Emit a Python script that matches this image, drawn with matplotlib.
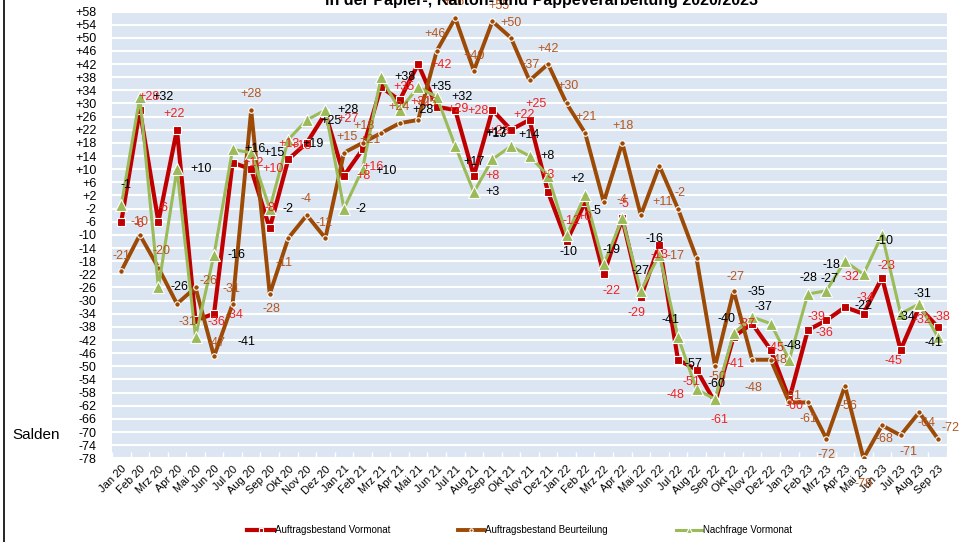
import numpy as np
import matplotlib
matplotlib.use("Agg")
import matplotlib.pyplot as plt
from matplotlib.lines import Line2D

plt.rcParams['font.family'] = ['Liberation Sans', 'DejaVu Sans']

# -----------------------------
# data
# -----------------------------
months = ["Jan 20", "Feb 20", "Mrz 20", "Apr 20", "Mai 20", "Jun 20", "Jul 20", "Aug 20",
          "Sep 20", "Okt 20", "Nov 20", "Dez 20",
          "Jan 21", "Feb 21", "Mrz 21", "Apr 21", "Mai 21", "Jun 21", "Jul 21", "Aug 21",
          "Sep 21", "Okt 21", "Nov 21", "Dez 21",
          "Jan 22", "Feb 22", "Mrz 22", "Apr 22", "Mai 22", "Jun 22", "Jul 22", "Aug 22",
          "Sep 22", "Okt 22", "Nov 22", "Dez 22",
          "Jan 23", "Feb 23", "Mrz 23", "Apr 23", "Mai 23", "Jun 23", "Jul 23", "Aug 23",
          "Sep 23"]

auftrag_vormonat = [-6, 28, -6, 22, -36, -34, 12, 10, -8, 13, 18, 27,
                    8, 16, 35, 31, 42, 29, 28, 8, 28, 22, 25, 3,
                    -12, 0, -22, -5, -29, -13, -48, -51, -61, -41, -37, -45,
                    -60, -39, -36, -32, -34, -23, -45, -32, -38]

auftrag_beurteilung = [-21, -10, -20, -31, -26, -47, -31, 28, -28, -11, -4, -11,
                       15, 18, 21, 24, 25, 46, 56, 40, 55, 50, 37, 42,
                       30, 21, 0, 18, -4, 11, -2, -17, -50, -27, -48, -48,
                       -61, -61, -72, -56, -78, -68, -71, -64, -72]

nachfrage_vormonat = [-1, 32, -26, 10, -41, -16, 16, 15, -2, 19, 25, 28,
                      -2, 10, 38, 28, 35, 32, 17, 3, 13, 17, 14, 8,
                      -10, 2, -19, -5, -27, -16, -41, -57, -60, -40, -35, -37,
                      -48, -28, -27, -18, -22, -10, -34, -31, -41]

# which data labels are visible (brown Mrz 22 has none)
beurteilung_show = [True] * 26 + [False] + [True] * 18

# label offsets in pixels (left edge dx, centre dy downwards) -- hand placed like the original
red_off = [(12, 2), (-1, -13), (-1, -14), (-14, -16), (12, 2), (11, 1), (10, 0), (11, 0),
           (-5, -20), (-10, -15), (-16, 3), (12, 6),
           (12, 0), (0, 18), (12, 0), (11, 2), (12, 1), (11, 2), (12, 1), (12, 0),
           (-4, 21), (2, -15), (-4, -16), (-8, -17),
           (-4, -20), (-8, 15), (-1, 17), (-4, -14), (-13, 16), (-9, 10), (-11, 35), (-14, 12),
           (-5, 18), (-7, 27), (-15, 0), (-4, -2),
           (-4, 7), (0, -13), (-11, 13), (-3, -30), (-7, -16), (-5, -12), (-16, 11), (-6, 13),
           (-5, -10)]

brown_off = [(-9, -15), (-9, -13), (-6, -17), (2, 18), (4, -6), (-7, -13), (-10, -15), (-11, -16),
             (-7, 15), (-13, 25), (-6, -16), (-10, -15),
             (-8, -16), (-9, -17), (-22, 7), (-11, -16), (-3, -17), (-12, -17), (-12, -16), (-10, -15),
             (-4, -15), (-11, -15), (-11, -15), (-11, -15),
             (-9, -17), (-10, -16), (0, 0), (-10, -17), (-24, -15), (-7, 36), (-3, -16), (-30, -2),
             (-7, 11), (-7, -14), (-8, 28), (-1, 0),
             (-6, -6), (-8, 17), (-9, 16), (-5, 20), (-9, 26), (-7, 14), (-1, 17), (-2, 11),
             (4, -11)]

green_off = [(-1, -20), (13, 0), (12, 0), (13, 0), (42, 5), (13, 0), (12, 0), (12, 0),
             (13, 0), (14, 4), (14, 1), (12, 0),
             (12, 0), (13, 2), (13, 0), (13, 0), (12, 0), (15, 0), (8, 16), (12, 0),
             (-7, -25), (-26, -13), (-11, -21), (-8, -20),
             (-7, 17), (-15, -16), (-1, -14), (-32, -7), (-9, -20), (-14, -16), (-16, -17), (-12, -25),
             (-8, -15), (-16, -14), (-5, -25), (-16, -17),
             (-6, -14), (-8, -16), (-6, -12), (-22, 4), (-9, 32), (-7, 6), (-3, 3), (-6, -10),
             (-13, 6)]

yticks = list(range(-78, 59, 4))

RED = "#C00000"
RED_TXT = "#F02020"
BROWN = "#9C4A06"
BROWN_TXT = "#B4561E"
GREEN = "#9BBB59"
BG = "#DCE6F2"

# -----------------------------
# figure
# -----------------------------
fig = plt.figure(figsize=(9.59, 5.42), dpi=100)
ax = fig.add_axes([112 / 959, 1 - 458.3 / 542, (947 - 112) / 959, (458.3 - 11.5) / 542])
ax.set_facecolor(BG)
for sp in ax.spines.values():
    sp.set_visible(False)

x = np.arange(len(months))

ax.plot(x, auftrag_vormonat, color=RED, lw=3.0, marker='s', ms=6,
        mfc=RED, mec='white', mew=0.8, zorder=3, label="Auftragsbestand Vormonat")
ax.plot(x, auftrag_beurteilung, color=BROWN, lw=2.8, marker='o', ms=4,
        mfc=BROWN, mec='white', mew=0.8, zorder=4, label="Auftragsbestand Beurteilung")
ax.plot(x, nachfrage_vormonat, color=GREEN, lw=2.2, marker='^', ms=8,
        mfc=GREEN, mec='white', mew=0.8, zorder=5, label="Nachfrage Vormonat")


def fmt(v):
    return f"{v:+d}"


def put_labels(vals, offs, color, show=None):
    for i, v in enumerate(vals):
        if show is not None and not show[i]:
            continue
        dx, dy = offs[i]
        ax.annotate(fmt(v), (i, v), xytext=(dx, -dy), textcoords='offset pixels',
                    ha='left', va='center', fontsize=9, color=color,
                    annotation_clip=False, zorder=6)


put_labels(auftrag_vormonat, red_off, RED_TXT)
put_labels(auftrag_beurteilung, brown_off, BROWN_TXT, beurteilung_show)
put_labels(nachfrage_vormonat, green_off, "black")

ax.set_xlim(-0.5, len(months) - 0.5)
ax.set_ylim(-78, 58)
ax.set_yticks(yticks)
ax.set_yticklabels([fmt(v) for v in yticks], fontsize=9)
ax.yaxis.grid(True, color='white', lw=1.5)
ax.set_axisbelow(True)
ax.tick_params(axis='y', length=0, pad=11)

ax.set_xticks(x)
ax.set_xticklabels(months, rotation=45, ha='right', rotation_mode='anchor', fontsize=8)
ax.set_xticks(np.arange(-0.5, len(months), 1), minor=True)
ax.tick_params(axis='x', which='major', length=0, pad=4)
ax.tick_params(axis='x', which='minor', direction='in', length=4, color='white', width=1)

fig.text(12 / 959, 1 - 435 / 542, "Salden", fontsize=11, ha='left', va='center')

fig.text(0.565, 1 - 5 / 542, "in der Papier-, Karton- und Pappeverarbeitung 2020/2023",
         fontsize=11.5, fontweight='bold', ha='center', va='baseline')

fig.add_artist(Line2D([4 / 959, 4 / 959], [0, 1], color='black', lw=1.2))

fig.legend(loc='center', bbox_to_anchor=(0.542, 1 - 530 / 542), ncol=3, frameon=False,
           fontsize=7, handlelength=2.7, handletextpad=0.1, columnspacing=7.0,
           markerscale=0.6)

fig.savefig("out.png", dpi=100)
